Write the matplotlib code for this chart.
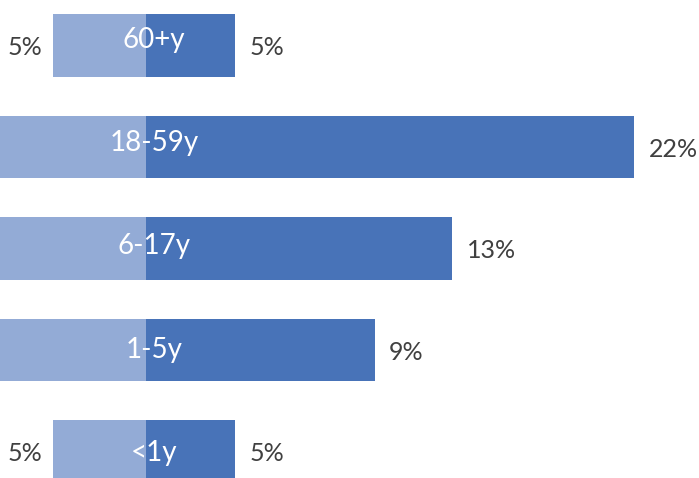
import numpy as np
import matplotlib.pyplot as plt

plt.rcParams['font.family'] = ['Lato', 'DejaVu Sans']

# age groups, top to bottom
groups = ["60+y", "18-59y", "6-17y", "1-5y", "<1y"]
# bar lengths (share in %)
left_vals = [4.2, 22.0, 14.0, 10.0, 4.2]
right_vals = [4.0, 22.0, 13.8, 10.3, 4.0]
# left labels of the long bars fall outside the picture
left_labels = ["5%", None, None, None, "5%"]
right_labels = ["5%", "22%", "13%", "9%", "5%"]

light = "#93abd6"
dark = "#4873b8"
grey = "#404040"

fig = plt.figure(figsize=(6.99, 4.78), dpi=100)
ax = fig.add_axes([0, 0, 1, 1])

y = np.arange(len(groups))
h = 0.62
ax.barh(y, [-v for v in left_vals], height=h, color=light, linewidth=0)
ax.barh(y, right_vals, height=h, color=dark, linewidth=0)

# group names sit on a slightly wider spacing than the bars
name_y = -0.055 + y * 1.017

for i in range(len(groups)):
    ax.text(right_vals[i] + 0.65, y[i] + 0.02, right_labels[i], ha="left", va="center",
            fontsize=18, color=grey)
    if left_labels[i]:
        ax.text(-left_vals[i] - 0.45, y[i] + 0.02, left_labels[i], ha="right", va="center",
                fontsize=18, color=grey)
    ax.text(0.35, name_y[i], groups[i], ha="center", va="center",
            fontsize=20, color="white")

ax.set_xlim(-146 / 22.2, (699 - 146) / 22.2)
ax.set_ylim((478 - 45.5) / 101.5, -45.5 / 101.5)
ax.axis("off")

fig.savefig("out.png", dpi=100)
